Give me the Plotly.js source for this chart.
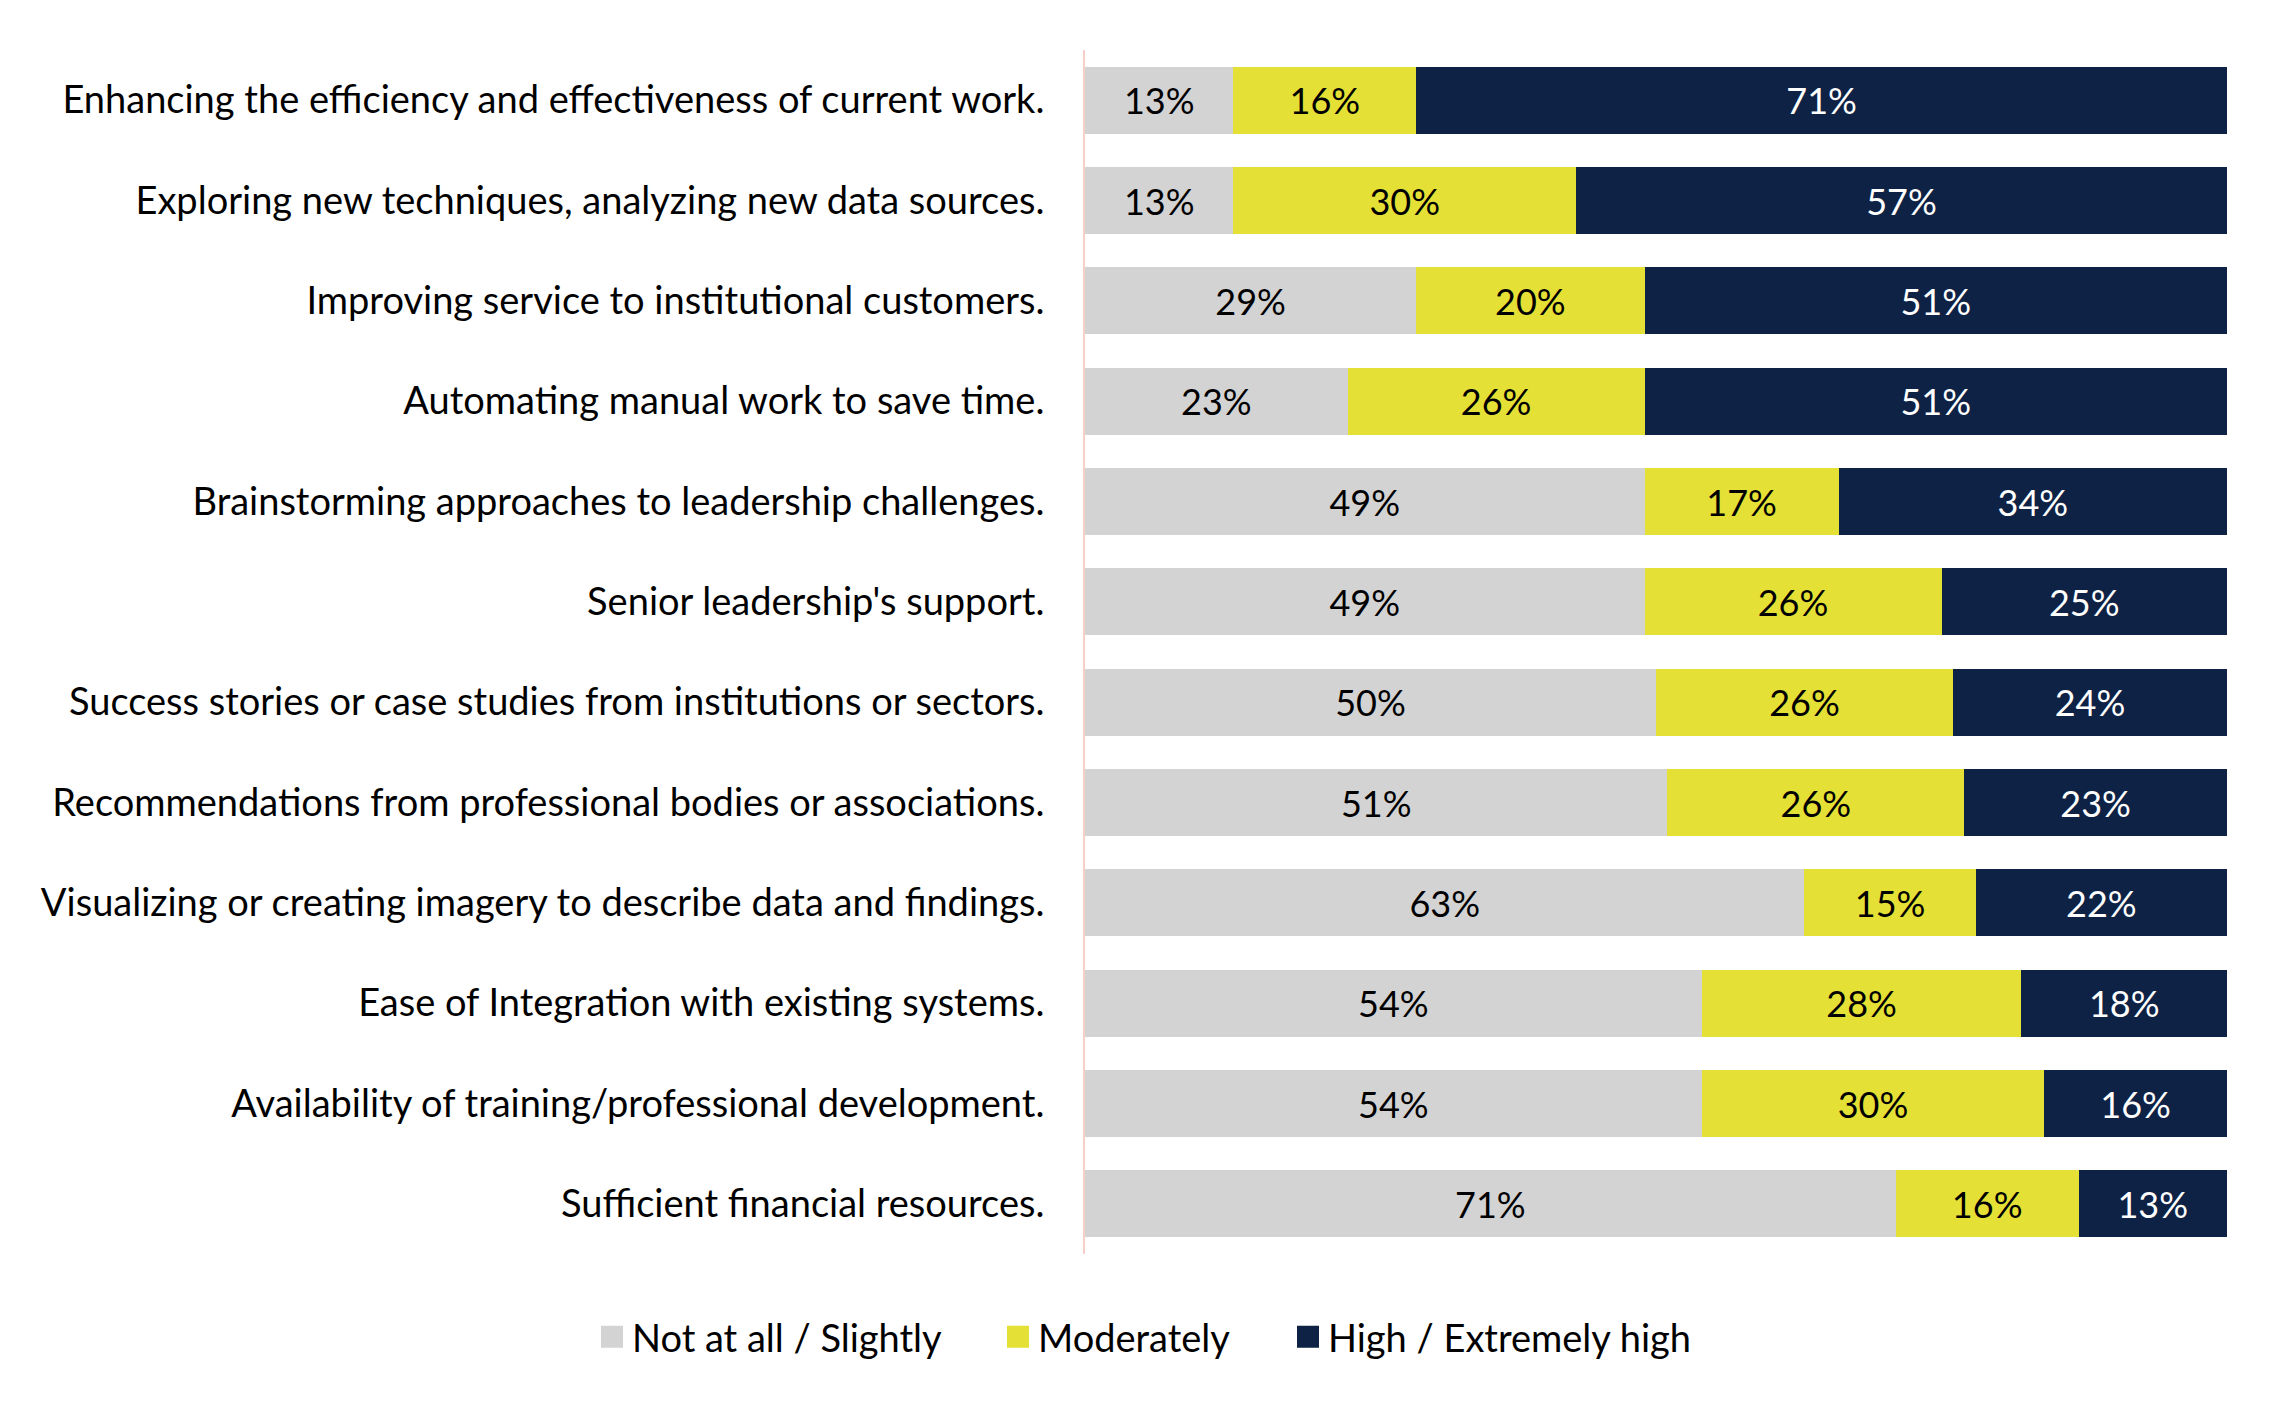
<!DOCTYPE html>
<html>
<head>
<meta charset="utf-8">
<script src="https://cdn.plot.ly/plotly-3.0.1.min.js"></script>
<style>
  html, body { margin: 0; padding: 0; background: #ffffff; }
  #chart { width: 2282px; height: 1416px; }
</style>
</head>
<body>
<div id="chart"></div>
<script>
const categories = [
  "Enhancing the efficiency and effectiveness of current work.",
  "Exploring new techniques, analyzing new data sources.",
  "Improving service to institutional customers.",
  "Automating manual work to save time.",
  "Brainstorming approaches to leadership challenges.",
  "Senior leadership's support.",
  "Success stories or case studies from institutions or sectors.",
  "Recommendations from professional bodies or associations.",
  "Visualizing or creating imagery to describe data and findings.",
  "Ease of Integration with existing systems.",
  "Availability of training/professional development.",
  "Sufficient financial resources."
];
const notAtAll   = [13, 13, 29, 23, 49, 49, 50, 51, 63, 54, 54, 71];
const moderately = [16, 30, 20, 26, 17, 26, 26, 26, 15, 28, 30, 16];
const high       = [71, 57, 51, 51, 34, 25, 24, 23, 22, 18, 16, 13];
const seriesNames = ["Not at all / Slightly", "Moderately", "High / Extremely high"];

const FONT = "Lato, Carlito, Calibri, 'Open Sans', sans-serif";
const colors = ["#d3d3d3", "#e5e035", "#0e2245"];
const textColors = ["#000000", "#000000", "#ffffff"];
const seriesValues = [notAtAll, moderately, high];
const legendIds = ["legend", "legend2", "legend3"];
const legendX = [592, 998, 1288];   // left edge of each legend entry (px)

const traces = seriesValues.map((vals, i) => ({
  type: "bar",
  orientation: "h",
  name: seriesNames[i],
  legend: legendIds[i],
  y: categories,
  x: vals,
  text: vals.map(v => v + "%"),
  textposition: "inside",
  insidetextanchor: "middle",
  constraintext: "none",
  textfont: { family: FONT, size: 36, color: textColors[i] },
  marker: { color: colors[i], line: { width: 0 } },
  hoverinfo: "skip",
  width: 0.67
}));

const W = 2282, H = 1416;
function legendAt(px) {
  return {
    orientation: "h",
    xref: "container",
    yref: "container",
    x: px / W,
    xanchor: "left",
    y: 1 - 1337 / H,
    yanchor: "middle",
    bgcolor: "rgba(0,0,0,0)",
    borderwidth: 0,
    font: { family: FONT, size: 38, color: "#000000" },
    itemwidth: 30
  };
}

const layout = {
  width: W,
  height: H,
  barmode: "stack",
  paper_bgcolor: "#ffffff",
  plot_bgcolor: "#ffffff",
  margin: { l: 1085, r: 55, t: 50, b: 162, pad: 0 },
  font: { family: FONT, size: 38, color: "#000000" },
  xaxis: {
    range: [0, 100],
    showgrid: false,
    showticklabels: false,
    zeroline: false,
    showline: false,
    ticks: "",
    fixedrange: true
  },
  yaxis: {
    autorange: "reversed",
    type: "category",
    showgrid: false,
    zeroline: false,
    showline: true,
    linecolor: "#f6cfc9",
    linewidth: 2,
    ticks: "",
    ticklabelstandoff: 31,
    tickfont: { family: FONT, size: 38, color: "#000000" },
    fixedrange: true
  },
  showlegend: true,
  legend: legendAt(legendX[0]),
  legend2: legendAt(legendX[1]),
  legend3: legendAt(legendX[2])
};

Plotly.newPlot("chart", traces, layout, { displayModeBar: false, staticPlot: true }).then(gd => {
  // enlarge the legend colour squares to match the reference swatch size
  gd.querySelectorAll("g.legendpoints path").forEach(p => {
    p.setAttribute("d", "M11,11H-11V-11H11Z");
  });
});
</script>
</body>
</html>
